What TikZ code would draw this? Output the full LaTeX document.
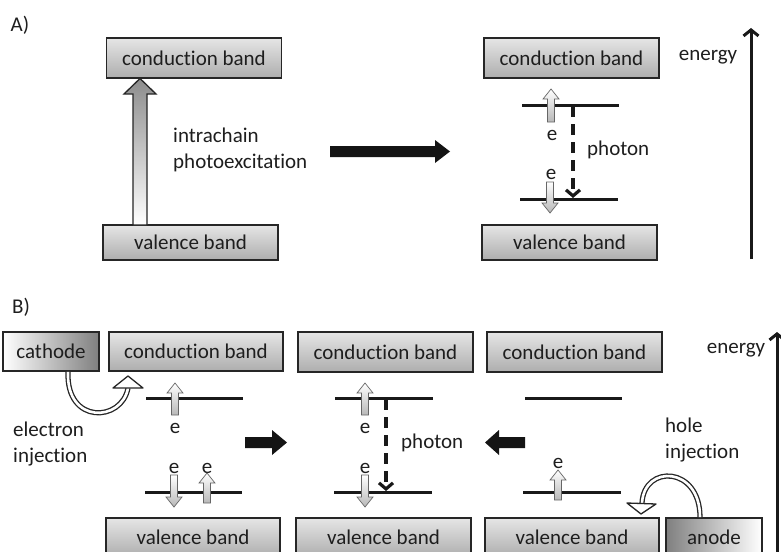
\documentclass[tikz,border=0pt]{standalone}
\usepackage{fontspec}
\setmainfont{Carlito}[Ligatures=NoCommon]
\usetikzlibrary{arrows.meta}
\definecolor{txt}{HTML}{1E1E1E}
\tikzset{
  band/.style={draw=black!85, line width=1.8pt, top color=black!10, middle color=white, bottom color=black!32,
    text=txt, inner sep=0pt, minimum width=175pt, minimum height=40pt},
  cath/.style={draw=black!85, line width=1.8pt, left color=white, right color=black!50,
    text=txt, inner sep=0pt, minimum width=96pt, minimum height=39pt},
  anod/.style={draw=black!85, line width=1.8pt, left color=black!50, right color=white,
    text=txt, inner sep=0pt, minimum width=96pt, minimum height=39pt},
  lbl/.style={text=txt, inner sep=0pt, align=left},
  level/.style={draw=black!90, line width=3pt},
  small/.style={draw=black!60, line width=0.7pt, top color=white, bottom color=black!28},
  bigblack/.style={fill=black!92, draw=none},
  energyarrow/.style={draw=black!90, line width=3pt, -{Straight Barb[length=6pt,width=15pt]}},
  photonarrow/.style={draw=black!90, line width=3.2pt, dash pattern=on 11pt off 7pt, -{Straight Barb[length=6pt,width=14pt]}},
  inject/.style={draw=black!85, line width=1.3pt, double=white, double distance=2.6pt},
  injhead/.style={draw=black!85, line width=1.3pt, fill=white, line join=round},
}
% small electron arrows: x, bottom y, tip y
\newcommand\elup[3]{\path[small] (#1-3.5,#2) -- (#1-3.5,#3+10) -- (#1-8,#3+10) -- (#1,#3) -- (#1+8,#3+10) -- (#1+3.5,#3+10) -- (#1+3.5,#2) -- cycle;}
\newcommand\eldown[3]{\path[small] (#1-3.5,#2) -- (#1-3.5,#3-10) -- (#1-8,#3-10) -- (#1,#3) -- (#1+8,#3-10) -- (#1+3.5,#3-10) -- (#1+3.5,#2) -- cycle;}
\begin{document}
\begin{tikzpicture}[x=1pt,y=-1pt,font=\fontsize{21}{26}\selectfont]
\clip (0,0) rectangle (781,551);
\fill[white] (0,0) rectangle (781,551);

% ---------- Part A ----------
\node[lbl] (labA) at (20,25) {A)};
\node[band] (cbA1) at (194,58) {conduction band};
\node[band, minimum height=35pt] (vbA1) at (190.5,242.5) {valence band};
\node[band] (cbA2) at (571.5,58) {conduction band};
\node[band, minimum height=35pt] (vbA2) at (569.5,242.5) {valence band};

% hollow excitation arrow
\path[draw=black!85, line width=1.3pt, top color=black!45, bottom color=white]
  (133,225) -- (133,94) -- (124,94) -- (140,78.5) -- (156,94) -- (147,94) -- (147,225) -- cycle;
\node[lbl, anchor=west] (intra) at (173,150) {intrachain\\photoexcitation};

% big black arrow
\path[bigblack] (330,146) -- (435,146) -- (435,140) -- (450,151.5) -- (435,163) -- (435,157) -- (330,157) -- cycle;

% levels A
\coordinate (lAu1) at (522,105); \coordinate (lAu2) at (619,105);
\coordinate (lAl1) at (520,199); \coordinate (lAl2) at (618,199);
\draw[level] (lAu1) -- (lAu2);
\draw[level] (lAl1) -- (lAl2);
\node[lbl] (eA1) at (552,135) {e};
\node[lbl] (eA2) at (551,174) {e};
\elup{551}{122}{89}
\eldown{550}{182}{213}
\coordinate (phA1) at (573,106); \coordinate (phA2) at (573,198);
\draw[photonarrow] (phA1) -- (phA2);
\node[lbl, anchor=west] (photA) at (587,150) {photon};

% energy A
\node[lbl] (enA) at (708,57) {energy};
\coordinate (eaA1) at (751,259); \coordinate (eaA2) at (751,28);
\draw[energyarrow] (eaA1) -- (eaA2);

% ---------- Part B ----------
\node[lbl] (labB) at (21,307) {B)};
\node[cath] (cath) at (51,351.5) {cathode};
\node[band, minimum width=174pt, minimum height=39pt] (cbB1) at (196,351.5) {conduction band};
\node[band] (cbB2) at (385.5,352) {conduction band};
\node[band] (cbB3) at (574.5,352) {conduction band};
\node[band, minimum width=174pt, minimum height=39pt] (vbB1) at (193,537.5) {valence band};
\node[band, minimum height=39pt] (vbB2) at (383.5,537.5) {valence band};
\node[band, minimum width=174pt, minimum height=39pt] (vbB3) at (572,537.5) {valence band};
\node[anod] (anod) at (714,537.5) {anode};

% electron injection
\coordinate (ehead) at (128,388);
\draw[inject] ([xshift=17pt]cath.south) .. controls (66,425) and (122,422) .. (ehead);
\path[injhead] (113,388) -- (128,376) -- (143,388) -- cycle;
\node[lbl, anchor=west] (einj) at (13,444) {electron\\injection};

% hole injection
\coordinate (hhead) at (642,503);
\draw[inject] ([xshift=-14pt]anod.north) .. controls (700,466) and (644,464) .. (hhead);
\path[injhead] (627,503) -- (656,504) -- (641,514) -- cycle;
\node[lbl, anchor=west] (hinj) at (665,440) {hole\\injection};

% levels B1
\draw[level] (146,398) -- (243,398);
\draw[level] (145,492) -- (242,492);
\node[lbl] (eB1a) at (175,428) {e};
\node[lbl] (eB1b) at (174,468) {e};
\node[lbl] (eB1c) at (207,468) {e};
\elup{175}{415}{383}
\eldown{174}{475}{507}
\elup{207}{503}{473}

% black arrows B
\path[bigblack] (245,437) -- (272,437) -- (272,430) -- (287,442.5) -- (272,455) -- (272,448) -- (245,448) -- cycle;
\path[bigblack] (525,437) -- (499,437) -- (499,430) -- (485,442.5) -- (499,455) -- (499,448) -- (525,448) -- cycle;

% levels B2
\draw[level] (335,398) -- (433,398);
\draw[level] (334,492) -- (432,492);
\node[lbl] (eB2a) at (365,428) {e};
\node[lbl] (eB2b) at (365,468) {e};
\elup{365}{415}{383}
\eldown{365}{475}{507}
\coordinate (phB1) at (386,399); \coordinate (phB2) at (386,491);
\draw[photonarrow] (phB1) -- (phB2);
\node[lbl, anchor=west] (photB) at (401,443) {photon};

% levels B3
\draw[level] (525,398) -- (622,398);
\draw[level] (523,492) -- (621,492);
\node[lbl] (eB3) at (558,463) {e};
\elup{558}{500}{470}

% energy B
\node[lbl] (enB) at (736,350) {energy};
\coordinate (eaB1) at (777,560); \coordinate (eaB2) at (777,332);
\draw[energyarrow] (eaB1) -- (eaB2);
\end{tikzpicture}
\end{document}
